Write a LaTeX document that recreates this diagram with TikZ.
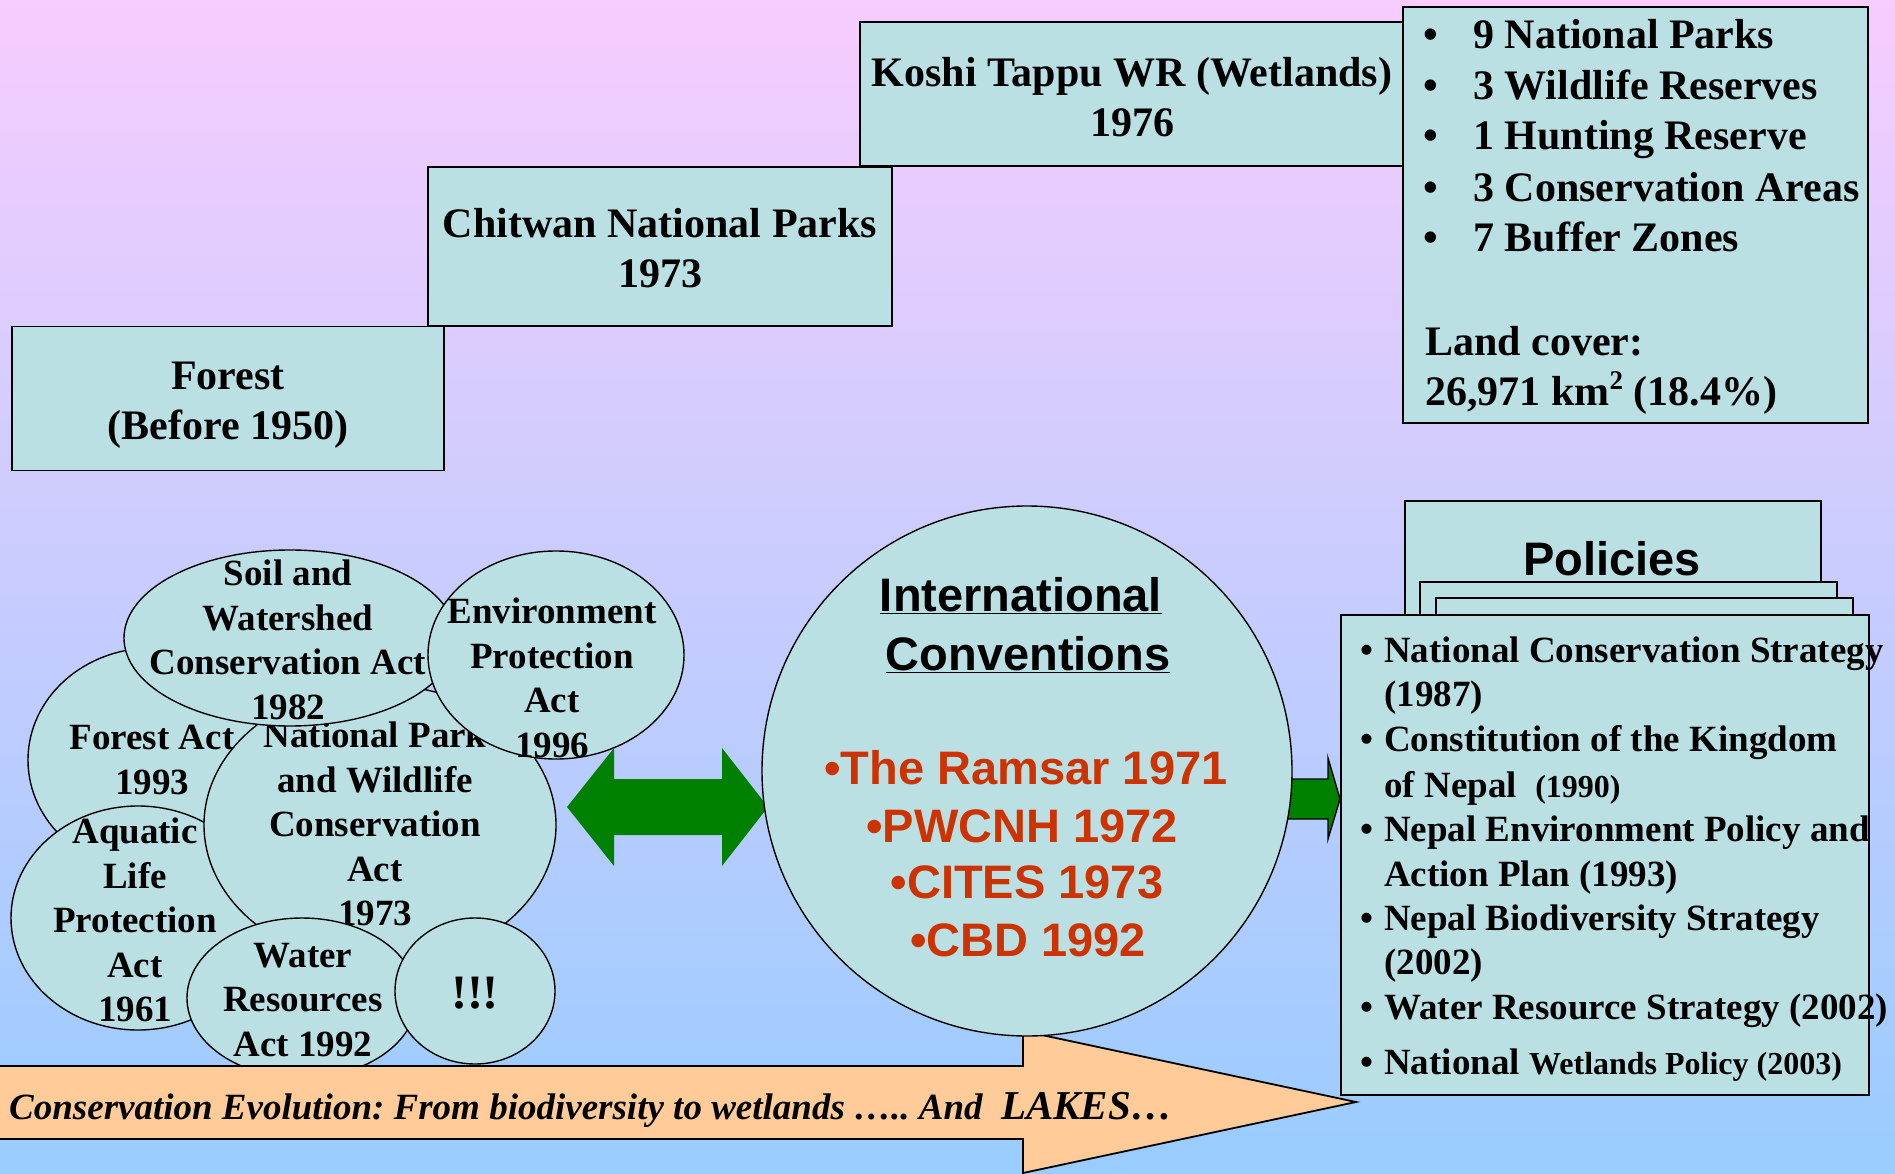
\documentclass[tikz,border=0pt]{standalone}
\usepackage{fontspec}
\setmainfont{Liberation Serif}
\newfontfamily\arialfont{Liberation Sans}
\usetikzlibrary{shapes.geometric}
\definecolor{bgtop}{RGB}{247,204,254}
\definecolor{bgbot}{RGB}{153,204,255}
\definecolor{boxfill}{RGB}{187,224,227}
\definecolor{convred}{RGB}{204,51,0}
\definecolor{arrgreen}{RGB}{0,128,0}
\definecolor{peach}{RGB}{255,204,153}
\frenchspacing
\begin{document}
\begin{tikzpicture}[x=1pt,y=-1pt,
  tbox/.style={draw=black, line width=1.8pt, fill=boxfill, inner sep=0pt},
  tboxtxt/.style={inner sep=0pt, align=center, font=\bfseries\fontsize{42}{50}\selectfont},
  listtxt/.style={inner sep=0pt, anchor=base west, font=\bfseries\fontsize{42}{50}\selectfont},
  poltxt/.style={inner sep=0pt, anchor=base west, font=\bfseries\fontsize{37}{44.5}\selectfont},
  blob/.style={ellipse, draw=black, line width=1.4pt, fill=boxfill, inner sep=0pt},
  blobtxt/.style={inner sep=0pt, align=center, font=\bfseries\fontsize{37}{44.5}\selectfont},
  convtxt/.style={inner sep=0pt, anchor=base, font=\arialfont\bfseries\fontsize{47}{58}\selectfont},
]
\useasboundingbox (0,0) rectangle (1895,1174);
\shade[top color=bgtop, bottom color=bgbot] (0,0) rectangle (1895,1174);

% ---- top staircase boxes
\node[tbox, minimum width=464pt, minimum height=159pt] (chitwan) at (660,246.5) {};
\node[tboxtxt] (chitwantxt) at (660,248.5) {Chitwan National Parks\\1973};
\node[tbox, minimum width=544pt, minimum height=144pt] (koshi) at (1132,94) {};
\node[tboxtxt] (koshitxt) at (1132,97.5) {Koshi Tappu WR (Wetlands)\\1976};
\node[tbox, minimum width=432pt, minimum height=144pt] (forest) at (228,398.5) {};
\node[tboxtxt] (foresttxt) at (228,405) {Forest\\(Before 1950)};
\node[tbox, minimum width=465pt, minimum height=416pt] (areas) at (1635.5,215) {};
\node[listtxt] (a1) at (1423,49) {\makebox[50pt][l]{•}9 National Parks};
\node[listtxt] (a2) at (1423,100) {\makebox[50pt][l]{•}3 Wildlife Reserves};
\node[listtxt] (a3) at (1423,150) {\makebox[50pt][l]{•}1 Hunting Reserve};
\node[listtxt] (a4) at (1423,202) {\makebox[50pt][l]{•}3 Conservation Areas};
\node[listtxt] (a5) at (1423,252) {\makebox[50pt][l]{•}7 Buffer Zones};
\node[listtxt] (a6) at (1425,355) {Land cover:};
\node[listtxt] (a7) at (1425,405) {26,971 km\raisebox{0.36em}{\fontsize{27}{30}\selectfont 2} (18.4\%)};

% ---- legislation bubbles
\node[blob, minimum width=248pt, minimum height=224pt] (forestact) at (152,760) {};
\node[blobtxt] (forestacttxt) at (152,760) {Forest Act\\1993};
\node[blob, minimum width=254pt, minimum height=224pt] (aquatic) at (138,918) {};
\node[blobtxt] (aquatictxt) at (135,920) {Aquatic\\Life\\Protection\\Act\\1961};
\node[blob, minimum width=352pt, minimum height=280pt] (natpark) at (380,825) {};
\node[blobtxt] (natparktxt) at (375,824) {National Park\\and Wildlife\\Conservation\\Act\\1973};
\node[blob, minimum width=332pt, minimum height=176pt] (soil) at (290,638) {};
\node[blobtxt] (soiltxt) at (288,640) {Soil and\\Watershed\\Conservation Act\\1982};
\node[blob, minimum width=256pt, minimum height=208pt] (envir) at (556,655) {};
\node[blobtxt] (envirtxt) at (552,678) {Environment\\Protection\\Act\\1996};
\node[blob, minimum width=230pt, minimum height=160pt] (water) at (302,998) {};
\node[blobtxt] (watertxt) at (303,1000) {Water\\Resources\\Act 1992};
\node[blob, minimum width=160pt, minimum height=146pt] (excl) at (475,991) {};
\node[blobtxt, font=\bfseries\fontsize{48}{52}\selectfont] (excltxt) at (475,993) {!!!};

% ---- double green arrow between bubbles and conventions
\fill[arrgreen] (567,807) -- (614,748) -- (614,779) -- (722,779) -- (722,748)
  -- (768,807) -- (722,866) -- (722,835) -- (614,835) -- (614,866) -- cycle;

% ---- bottom evolution arrow
\draw[line width=1.8pt, fill=peach] (-5,1066) -- (1023,1066) -- (1023,1031) -- (1356,1102)
  -- (1023,1173) -- (1023,1139) -- (-5,1139) -- cycle;
\node[inner sep=0pt, anchor=base west, font=\bfseries\itshape\fontsize{37}{44}\selectfont] (evol) at (9,1119)
  {Conservation Evolution: From biodiversity to wetlands ….. And\ \ {\fontsize{41}{44}\selectfont LAKES…}};

% ---- small arrow to policies
\draw[line width=1.4pt, fill=arrgreen] (1285,779) -- (1328,779) -- (1328,758) -- (1340,799)
  -- (1328,839) -- (1328,819) -- (1285,819) -- cycle;

% ---- conventions circle
\node[circle, draw=black, line width=1.4pt, fill=boxfill, minimum size=530pt, inner sep=0pt] (conv) at (1027,771) {};
\node[convtxt, text=black] (c1) at (1021,611.5) {\underline{International}};
\node[convtxt, text=black] (c2) at (1028,670.5) {\underline{Conventions}};
\node[convtxt, text=convred] (c3) at (1026,784.5) {•The Ramsar 1971};
\node[convtxt, text=convred] (c4) at (1022,842.5) {•PWCNH 1972};
\node[convtxt, text=convred] (c5) at (1027,898.5) {•CITES 1973};
\node[convtxt, text=convred] (c6) at (1028,956.5) {•CBD 1992};

% ---- policies stack
\node[tbox, minimum width=416pt, minimum height=200pt, anchor=north west] (pol0) at (1404,500) {};
\node[inner sep=0pt, anchor=base, font=\arialfont\bfseries\fontsize{47}{56}\selectfont] (poltitle) at (1612,575) {Policies};
\node[tbox, minimum width=417pt, minimum height=120pt, anchor=north west] (pol1) at (1419,581) {};
\node[tbox, minimum width=417pt, minimum height=120pt, anchor=north west] (pol2) at (1435,597) {};
\node[tbox, minimum width=528pt, minimum height=480pt, anchor=north west] (pol3) at (1340,614) {};
\node[poltxt] (p1) at (1360,662) {\makebox[24pt][l]{•}National Conservation Strategy};
\node[poltxt] (p2) at (1384,706) {(1987)};
\node[poltxt] (p3) at (1360,751) {\makebox[24pt][l]{•}Constitution of the Kingdom};
\node[poltxt] (p4) at (1384,797) {of Nepal\ \ {\fontsize{32}{36}\selectfont (1990)}};
\node[poltxt] (p5) at (1360,841) {\makebox[24pt][l]{•}Nepal Environment Policy and};
\node[poltxt] (p6) at (1384,886) {Action Plan (1993)};
\node[poltxt] (p7) at (1360,930) {\makebox[24pt][l]{•}Nepal Biodiversity Strategy};
\node[poltxt] (p8) at (1384,974) {(2002)};
\node[poltxt] (p9) at (1360,1019) {\makebox[24pt][l]{•}Water Resource Strategy (2002)};
\node[poltxt] (p10) at (1360,1074) {\makebox[24pt][l]{•}National {\fontsize{32}{36}\selectfont Wetlands Policy (2003)}};
\end{tikzpicture}
\end{document}
